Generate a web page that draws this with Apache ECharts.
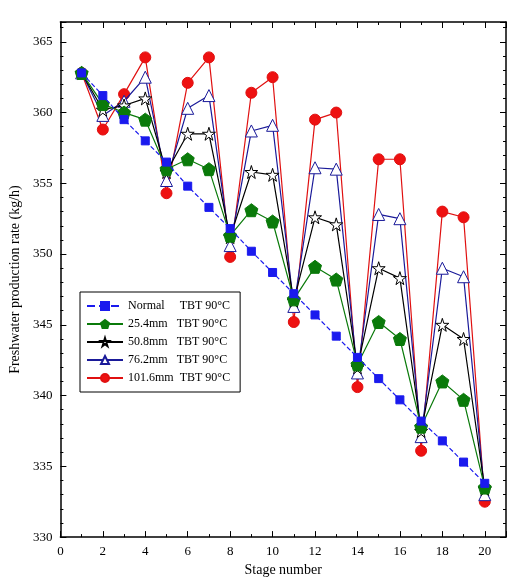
<!DOCTYPE html>
<html><head><meta charset="utf-8">
<script src="https://cdn.jsdelivr.net/npm/echarts@6/dist/echarts.min.js"></script>
<style>html,body{margin:0;padding:0;background:#fff}#c{width:520px;height:582px}</style>
</head><body><div id="c"></div>
<script>
const stages=[1,2,3,4,5,6,7,8,9,10,11,12,13,14,15,16,17,18,19,20];
const normal=[362.8,361.2,359.5,358.0,356.5,354.8,353.3,351.8,350.2,348.7,347.2,345.7,344.2,342.7,341.2,339.7,338.2,336.8,335.3,333.8];
const d254=[362.8,360.6,360.0,359.5,356.0,356.7,356.0,351.3,353.1,352.3,346.8,349.1,348.2,342.2,345.2,344.0,337.8,341.0,339.7,333.5];
const d508=[362.8,360.2,360.5,361.0,355.8,358.5,358.5,351.2,355.8,355.6,346.7,352.6,352.1,342.0,349.0,348.3,337.5,345.0,344.0,333.4];
const d762=[362.8,359.8,360.8,362.5,355.2,360.3,361.2,350.6,358.7,359.1,346.3,356.1,356.0,341.6,352.8,352.5,337.1,349.0,348.4,333.0];
const d1016=[362.8,358.8,361.3,363.9,354.3,362.1,363.9,349.8,361.4,362.5,345.2,359.5,360.0,340.6,356.7,356.7,336.1,353.0,352.6,332.5];
const names=['Normal     TBT 90°C','25.4mm   TBT 90°C','50.8mm   TBT 90°C','76.2mm   TBT 90°C','101.6mm  TBT 90°C'];
const F='Liberation Serif';
const pts=a=>stages.map((s,i)=>[s,a[i]]);
const mk=(name,data,color,symbol,size,fill,dashed,z)=>({name,type:'line',data:pts(data),symbol,symbolSize:size,z,
 lineStyle:{color,width:1.2,type:dashed?'dashed':'solid'},itemStyle:{color:fill,borderColor:color,borderWidth:1},color:fill});
const ax={axisLine:{onZero:false,lineStyle:{color:'#000',width:1.5}},axisTick:{inside:true,length:6,lineStyle:{color:'#000'}},
 minorTick:{show:true,length:3,lineStyle:{color:'#000'}},splitLine:{show:false},axisLabel:{color:'#000',fontFamily:F,fontSize:13}};
const chart=echarts.init(document.getElementById('c'));
chart.setOption({
 animation:false,backgroundColor:'#fff',
 grid:{left:55,right:14,top:22,bottom:34},
 xAxis:[{type:'value',min:0,max:21,interval:2,...ax,minorTick:{show:true,splitNumber:2,length:3},
   name:'Stage number',nameLocation:'middle',nameGap:20,nameTextStyle:{fontFamily:F,fontSize:14,color:'#000'},
   axisLabel:{...ax.axisLabel,showMaxLabel:false}},
  {type:'value',position:'top',min:0,max:21,interval:2,...ax,minorTick:{show:true,splitNumber:2,length:3},axisLabel:{show:false}}],
 yAxis:[{type:'value',min:330,max:366.4,interval:5,...ax,axisLabel:{...ax.axisLabel,showMaxLabel:false},
   name:'Freshwater production rate (kg/h)',nameLocation:'middle',nameGap:35,nameTextStyle:{fontFamily:F,fontSize:14,color:'#000'}},
  {type:'value',position:'right',min:330,max:366.4,interval:5,...ax,axisLabel:{show:false}}],
 legend:{left:80,top:292,orient:'vertical',itemGap:6,itemWidth:36,itemHeight:10,borderColor:'#000',borderWidth:1,padding:[8,10,8,6],
   textStyle:{fontFamily:F,fontSize:12,color:'#000'},data:names},
 series:[
  mk(names[0],normal,'#1a1aee','rect',8,'#1a1aee',true,5),
  mk(names[1],d254,'#0a7a0a','path://M50,0 L100,38 L81,100 L19,100 L0,38 Z',13,'#0a7a0a',false,4),
  mk(names[2],d508,'#000','path://M50,0 L61,35 L98,35 L68,57 L79,91 L50,70 L21,91 L32,57 L2,35 L39,35 Z',13,'#fff',false,3),
  mk(names[3],d762,'#1a1a99','triangle',12,'#fff',false,2),
  mk(names[4],d1016,'#e01010','circle',11,'#ee1111',false,1)
 ]
});
</script></body></html>
